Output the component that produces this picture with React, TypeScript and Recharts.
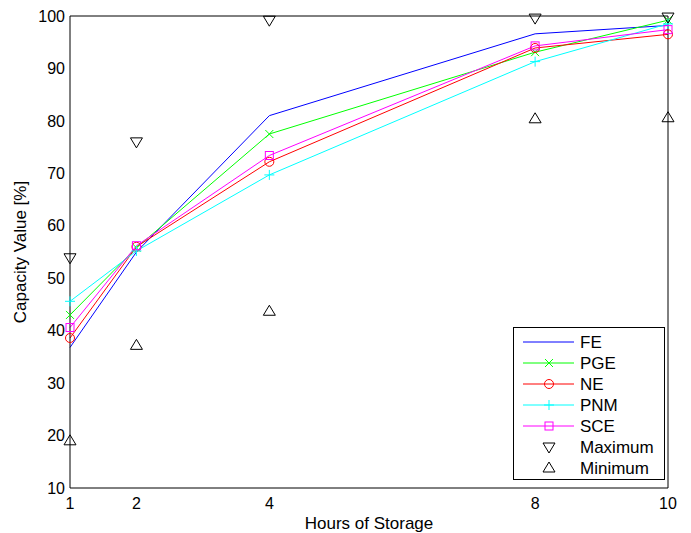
import React from 'react';
import { ComposedChart, Line, XAxis, YAxis, Legend } from 'recharts';

const hours = [1, 2, 4, 8, 10];
const yTicks = [10, 20, 30, 40, 50, 60, 70, 80, 90, 100];
const feValues = [36.8, 55.0, 81.0, 96.6, 98.2];
const pgeValues = [43.0, 55.8, 77.5, 93.1, 99.2];
const neValues = [38.6, 56.0, 72.2, 93.9, 96.5];
const pnmValues = [45.6, 55.2, 69.7, 91.3, 98.5];
const sceValues = [40.6, 56.2, 73.4, 94.3, 97.4];
const maxValues = [53.9, 76.0, 99.2, 99.6, 99.8];
const minValues = [19.0, 37.2, 43.7, 80.4, 80.6];

const rows = hours.map((h, i) => ({
  h,
  fe: feValues[i],
  pge: pgeValues[i],
  ne: neValues[i],
  pnm: pnmValues[i],
  sce: sceValues[i],
  max: maxValues[i],
  min: minValues[i],
}));

type Marker = 'none' | 'x' | 'circle' | 'plus' | 'square' | 'down' | 'up';

const series: { key: string; name: string; color: string; marker: Marker; line: boolean }[] = [
  { key: 'fe', name: 'FE', color: '#0000ff', marker: 'none', line: true },
  { key: 'pge', name: 'PGE', color: '#00ff00', marker: 'x', line: true },
  { key: 'ne', name: 'NE', color: '#ff0000', marker: 'circle', line: true },
  { key: 'pnm', name: 'PNM', color: '#00ffff', marker: 'plus', line: true },
  { key: 'sce', name: 'SCE', color: '#ff00ff', marker: 'square', line: true },
  { key: 'max', name: 'Maximum', color: '#000000', marker: 'down', line: false },
  { key: 'min', name: 'Minimum', color: '#000000', marker: 'up', line: false },
];

const drawMarker = (m: Marker, cx: number, cy: number, color: string, k?: string) => {
  const s = { stroke: color, strokeWidth: 1, fill: 'none' };
  switch (m) {
    case 'x':
      return (
        <g key={k}>
          <line x1={cx - 4} y1={cy - 4} x2={cx + 4} y2={cy + 4} {...s} />
          <line x1={cx - 4} y1={cy + 4} x2={cx + 4} y2={cy - 4} {...s} />
        </g>
      );
    case 'circle':
      return <circle key={k} cx={cx} cy={cy} r={4.5} {...s} />;
    case 'plus':
      return (
        <g key={k}>
          <line x1={cx - 5} y1={cy} x2={cx + 5} y2={cy} {...s} />
          <line x1={cx} y1={cy - 5} x2={cx} y2={cy + 5} {...s} />
        </g>
      );
    case 'square':
      return <rect key={k} x={cx - 4} y={cy - 4} width={8} height={8} {...s} />;
    case 'down':
      return <polygon key={k} points={`${cx - 6},${cy - 4} ${cx + 6},${cy - 4} ${cx},${cy + 6}`} {...s} />;
    case 'up':
      return <polygon key={k} points={`${cx - 6},${cy + 4} ${cx + 6},${cy + 4} ${cx},${cy - 6}`} {...s} />;
    default:
      return <g key={k} />;
  }
};

const makeDot = (m: Marker, color: string) => (props: any) => {
  const { cx, cy, index } = props;
  if (cx == null || cy == null) return <g key={index} />;
  return drawMarker(m, cx, cy, color, `d${index}`);
};

const font = "'Liberation Sans', Arial, sans-serif";

const LegendBox = () => (
  <div
    style={{
      border: '1px solid #000',
      background: '#fff',
      width: 152,
      height: 153,
      boxSizing: 'border-box',
    }}
  >
    <svg width={150} height={151} style={{ display: 'block' }}>
      {series.map((s, i) => {
        const y = 14 + i * 21;
        return (
          <g key={s.key}>
            {s.line && <line x1={9} y1={y} x2={60} y2={y} stroke={s.color} strokeWidth={1} />}
            {drawMarker(s.marker, 35, y, s.color)}
            <text
              x={66}
              y={y}
              dominantBaseline="central"
              fontFamily={font}
              fontSize={17}
              fill="#000"
            >
              {s.name}
            </text>
          </g>
        );
      })}
    </svg>
  </div>
);

const YTitle = (props: any) => {
  const vb = props.viewBox || {};
  const cx = vb.x + 20;
  const cy = vb.y + vb.height / 2;
  return (
    <text
      x={cx}
      y={cy}
      transform={`rotate(-90 ${cx} ${cy})`}
      textAnchor="middle"
      dominantBaseline="central"
      fontFamily={font}
      fontSize={17}
      fill="#000"
    >
      Capacity Value [%]
    </text>
  );
};

const XTitle = (props: any) => {
  const vb = props.viewBox || {};
  const cx = vb.x + vb.width / 2;
  const cy = vb.y + 41;
  return (
    <text x={cx} y={cy} textAnchor="middle" fontFamily={font} fontSize={17} fill="#000">
      Hours of Storage
    </text>
  );
};

export default function App() {
  return (
    <div style={{ position: 'absolute', left: 0, top: 0, width: 691, height: 533, background: '#fff' }}>
      <ComposedChart
        width={691}
        height={533}
        data={rows}
        margin={{ top: 16, right: 23, left: 0, bottom: 0 }}
        style={{ fontFamily: font }}
      >
        <XAxis
          xAxisId="b"
          dataKey="h"
          type="number"
          domain={[1, 10]}
          ticks={hours}
          interval={0}
          height={45}
          tickLine={false}
          tickSize={0}
          tickMargin={10}
          axisLine={{ stroke: '#000', strokeWidth: 1 }}
          tick={{ fill: '#000', fontSize: 16 }}
          label={<XTitle />}
        />
        <XAxis
          xAxisId="bm"
          dataKey="h"
          type="number"
          domain={[1, 10]}
          allowDataOverflow
          ticks={hours}
          interval={0}
          mirror
          tick={false}
          tickSize={5}
          tickLine={{ stroke: '#000' }}
          axisLine={false}
        />
        <XAxis
          xAxisId="t"
          orientation="top"
          dataKey="h"
          type="number"
          domain={[1, 10]}
          allowDataOverflow
          ticks={hours}
          interval={0}
          mirror
          tick={false}
          tickSize={5}
          tickLine={{ stroke: '#000' }}
          axisLine={{ stroke: '#000', strokeWidth: 1 }}
        />
        <YAxis
          yAxisId="l"
          type="number"
          domain={[10, 100]}
          ticks={yTicks}
          interval={0}
          width={70}
          tickLine={false}
          tickSize={0}
          tickMargin={5}
          axisLine={{ stroke: '#000', strokeWidth: 1 }}
          tick={{ fill: '#000', fontSize: 16 }}
          label={<YTitle />}
        />
        <YAxis
          yAxisId="lm"
          type="number"
          domain={[10, 100]}
          allowDataOverflow
          ticks={yTicks}
          interval={0}
          mirror
          tick={false}
          tickSize={5}
          tickLine={{ stroke: '#000' }}
          axisLine={false}
        />
        <YAxis
          yAxisId="r"
          orientation="right"
          type="number"
          domain={[10, 100]}
          allowDataOverflow
          ticks={yTicks}
          interval={0}
          mirror
          tick={false}
          tickSize={5}
          tickLine={{ stroke: '#000' }}
          axisLine={{ stroke: '#000', strokeWidth: 1 }}
        />
        {series.map((s) => (
          <Line
            key={s.key}
            xAxisId="b"
            yAxisId="l"
            type="linear"
            dataKey={s.key}
            name={s.name}
            stroke={s.line ? s.color : 'none'}
            strokeWidth={1}
            dot={makeDot(s.marker, s.color)}
            activeDot={false}
            isAnimationActive={false}
          />
        ))}
        <Legend
          layout="vertical"
          align="center"
          verticalAlign="middle"
          content={() => <LegendBox />}
          wrapperStyle={{ left: 513, top: 327, width: 152, height: 153 }}
        />
      </ComposedChart>
    </div>
  );
}
